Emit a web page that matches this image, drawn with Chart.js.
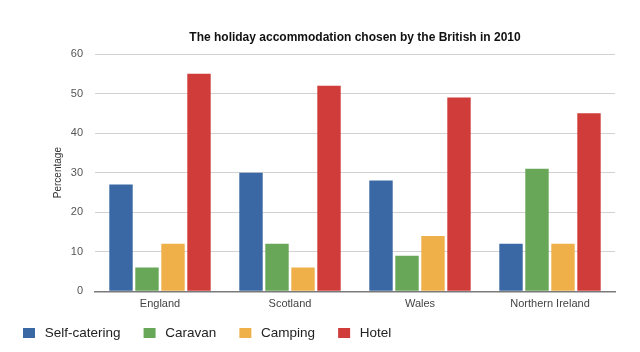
<!DOCTYPE html>
<html>
<head>
<meta charset="utf-8">
<script src="https://cdn.jsdelivr.net/npm/chart.js@4/dist/chart.umd.min.js"></script>
<style>
  html, body { margin: 0; padding: 0; background: #ffffff; }
  #wrap { width: 640px; height: 352px; position: relative; }
</style>
</head>
<body>
<div id="wrap"><canvas id="c" width="640" height="352"></canvas></div>
<script>
const chartTitle = 'The holiday accommodation chosen by the British in 2010';
const categories = ['England', 'Scotland', 'Wales', 'Northern Ireland'];
const seriesNames = ['Self-catering', 'Caravan', 'Camping', 'Hotel'];
const selfCatering = [27, 30, 28, 12];
const caravan = [6, 12, 9, 31];
const camping = [12, 6, 14, 12];
const hotel = [55, 52, 49, 45];
const yTicks = [0, 10, 20, 30, 40, 50, 60];
const yTitle = 'Percentage';

const colors = ['#3a68a4', '#69a758', '#efb04a', '#d03c3a'];
const FONT = '"Liberation Sans", Arial, Helvetica, sans-serif';

function legendSwatch(color) {
  const cv = document.createElement('canvas');
  cv.width = 30; cv.height = 10;
  const g = cv.getContext('2d');
  g.fillStyle = color;
  g.fillRect(15, 0, 12, 10);
  return cv;
}
const swatches = colors.map(legendSwatch);

const titlePlugin = {
  id: 'centeredTitle',
  afterDraw(chart) {
    const {ctx, chartArea} = chart;
    ctx.save();
    ctx.font = 'bold 12px ' + FONT;
    ctx.fillStyle = '#111111';
    ctx.textAlign = 'center';
    ctx.textBaseline = 'middle';
    ctx.fillText(chartTitle, (chartArea.left + chartArea.right) / 2, 38);
    ctx.restore();
  }
};

const allSeries = [selfCatering, caravan, camping, hotel];

new Chart(document.getElementById('c'), {
  type: 'bar',
  data: {
    labels: categories,
    datasets: seriesNames.map((name, i) => ({
      label: name,
      data: allSeries[i],
      backgroundColor: colors[i],
      borderWidth: 0,
      categoryPercentage: 0.8,
      barPercentage: 0.9
    }))
  },
  options: {
    responsive: false,
    animation: false,
    layout: { padding: { top: 54, left: 0, right: 25, bottom: 2.25 } },
    plugins: {
      title: { display: false },
      tooltip: { enabled: false },
      legend: {
        display: true,
        position: 'bottom',
        align: 'start',
        labels: {
          usePointStyle: true,
          pointStyleWidth: 30,
          boxHeight: 10,
          padding: 8,
          color: '#222222',
          font: { family: FONT, size: 13.5 },
          generateLabels(chart) {
            const items = Chart.defaults.plugins.legend.labels.generateLabels(chart);
            items.forEach((it, i) => { it.pointStyle = swatches[i]; });
            return items;
          }
        }
      }
    },
    scales: {
      x: {
        grid: { display: false, drawTicks: false },
        border: { display: true, color: '#7a7a7a', width: 1.5 },
        ticks: { color: '#444444', padding: 6, font: { family: FONT, size: 11 } },
        afterFit(scale) { scale.height = 27; }
      },
      y: {
        min: 0,
        max: 60,
        afterBuildTicks(scale) { scale.ticks = yTicks.map(v => ({ value: v })); },
        grid: { color: '#d2d2d2', lineWidth: 1, drawTicks: false },
        border: { display: false },
        ticks: { color: '#555555', padding: 12, font: { family: FONT, size: 11 } },
        title: {
          display: true,
          text: yTitle,
          color: '#333333',
          padding: { top: 52, bottom: 0 },
          font: { family: FONT, size: 10 }
        },
        afterFit(scale) { scale.width = 95; }
      }
    }
  },
  plugins: [titlePlugin]
});
</script>
</body>
</html>
